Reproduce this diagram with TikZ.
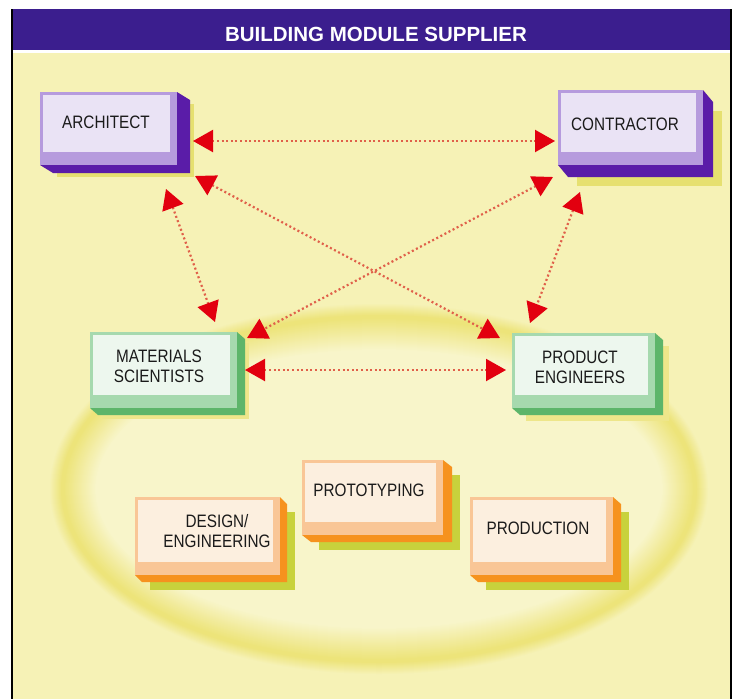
\documentclass[tikz,border=0pt]{standalone}
\usepackage{fontspec}
\newfontfamily\labfont{Liberation Sans}[FakeStretch=0.85]
\newfontfamily\hdrfont{Liberation Sans}[FakeStretch=1.0]
\usetikzlibrary{arrows.meta}
\definecolor{bg}{HTML}{F6F2B6}
\definecolor{hdr}{HTML}{3B1E8E}
\definecolor{tipred}{HTML}{E2000F}
\definecolor{dotred}{HTML}{E0604A}
\definecolor{txt}{HTML}{1A1A1A}
\definecolor{purpledk}{HTML}{5A1CA8}
\definecolor{purplemd}{HTML}{B69BDD}
\definecolor{purplelt}{HTML}{EAE3F5}
\definecolor{purplesh}{HTML}{E6E070}
\definecolor{greendk}{HTML}{5DB56A}
\definecolor{greenmd}{HTML}{A6D9AE}
\definecolor{greenlt}{HTML}{EDF7EE}
\definecolor{greensh}{HTML}{EEE68A}
\definecolor{orangedk}{HTML}{F6921E}
\definecolor{orangemd}{HTML}{F9C696}
\definecolor{orangelt}{HTML}{FCEFDF}
\definecolor{orangesh}{HTML}{C8D23C}
\definecolor{ringC}{HTML}{EDE47A}
\definecolor{ringF}{HTML}{F8F5CA}
% #1 colour prefix, #2 x1, #3 y1, #4 x2, #5 y2, #6 dx, #7 dy, #8 shadow offset
\newcommand\Cube[8]{%
  \fill[#1sh] ({#2+#6+#8},{#3+#7+#8}) rectangle ({#4+#6+#8},{#5+#7+#8});
  \fill[#1dk] (#4,#3) -- ({#4+#6},{#3+#7}) -- ({#4+#6},{#5+#7}) -- ({#2+#6},{#5+#7}) -- (#2,#5) -- cycle;
  \fill[#1md] (#2,#3) rectangle (#4,#5);
  \fill[#1lt] ({#2+3},{#3+3}) rectangle ({#4-7},{#5-13});
}
\tikzset{
  lab/.style={font=\labfont\fontsize{18}{20}\selectfont, text=txt, align=center, inner sep=0pt},
  conn/.style={dotred, line width=2.2pt, dash pattern=on 2pt off 2.6pt,
    {Triangle[length=20pt,width=22pt,color=tipred]}-{Triangle[length=20pt,width=22pt,color=tipred]}}
}
\begin{document}
\begin{tikzpicture}[x=1pt,y=-1pt]
\useasboundingbox (0,0) rectangle (739,699);
\fill[white] (0,0) rectangle (739,699);
\fill[bg] (12,53) rectangle (731,699);
\fill[hdr] (12,9) rectangle (731,50);
\draw[black, line width=1.2pt] (12,9) -- (12,699);
\draw[black, line width=1.2pt] (731,9) -- (731,699);
\node[font=\hdrfont\bfseries\fontsize{20.5}{22}\selectfont, text=white, inner sep=0pt] (title) at (376,34) {BUILDING MODULE SUPPLIER};
% soft ring
\foreach \i in {0,...,12}{
  \pgfmathtruncatemacro\p{\i*100/12}
  \fill[ringC!\p!bg] (379,489) ellipse [x radius={(330-\i)*1pt}, y radius={(186-\i)*1pt}];
}
\foreach \i in {0,...,32}{
  \pgfmathtruncatemacro\p{100-\i*100/32}
  \fill[ringC!\p!ringF] (379,489) ellipse [x radius={(315-\i)*1pt}, y radius={(171-\i)*1pt}];
}
% boxes
\Cube{purple}{40}{92}{177}{165}{13}{8}{4}
\Cube{purple}{558}{90}{703}{165}{10}{12}{9}
\Cube{green}{90}{332}{237}{408}{8}{7}{4}
\Cube{green}{512}{333}{655}{408}{8}{7}{6}
\Cube{orange}{135}{497}{280}{575}{7}{7}{8}
\Cube{orange}{302}{460}{443}{535}{9}{7}{8}
\Cube{orange}{470}{497}{613}{575}{8}{7}{8}
\node[lab] (arch) at (106,122) {ARCHITECT};
\node[lab] (contr) at (625,124) {CONTRACTOR};
\node[lab] (mat) at (159,366) {MATERIALS\\SCIENTISTS};
\node[lab] (prod) at (580,367) {PRODUCT\\ENGINEERS};
\node[lab] (design) at (217,531) {DESIGN/\\ENGINEERING};
\node[lab] (proto) at (369,490) {PROTOTYPING};
\node[lab] (prodn) at (538,528) {PRODUCTION};
% connector ends
\coordinate (ac1) at (193,141); \coordinate (ac2) at (555,141);
\coordinate (am1) at (166,189); \coordinate (am2) at (215,322);
\coordinate (ap1) at (195,176); \coordinate (ap2) at (500,338);
\coordinate (cm1) at (553,177); \coordinate (cm2) at (247,338);
\coordinate (cp1) at (580,192); \coordinate (cp2) at (530,323);
\coordinate (mp1) at (245,370); \coordinate (mp2) at (506,370);
\draw[conn] (ac1) -- (ac2);
\draw[conn] (am1) -- (am2);
\draw[conn] (ap1) -- (ap2);
\draw[conn] (cm1) -- (cm2);
\draw[conn] (cp1) -- (cp2);
\draw[conn] (mp1) -- (mp2);
\end{tikzpicture}
\end{document}
